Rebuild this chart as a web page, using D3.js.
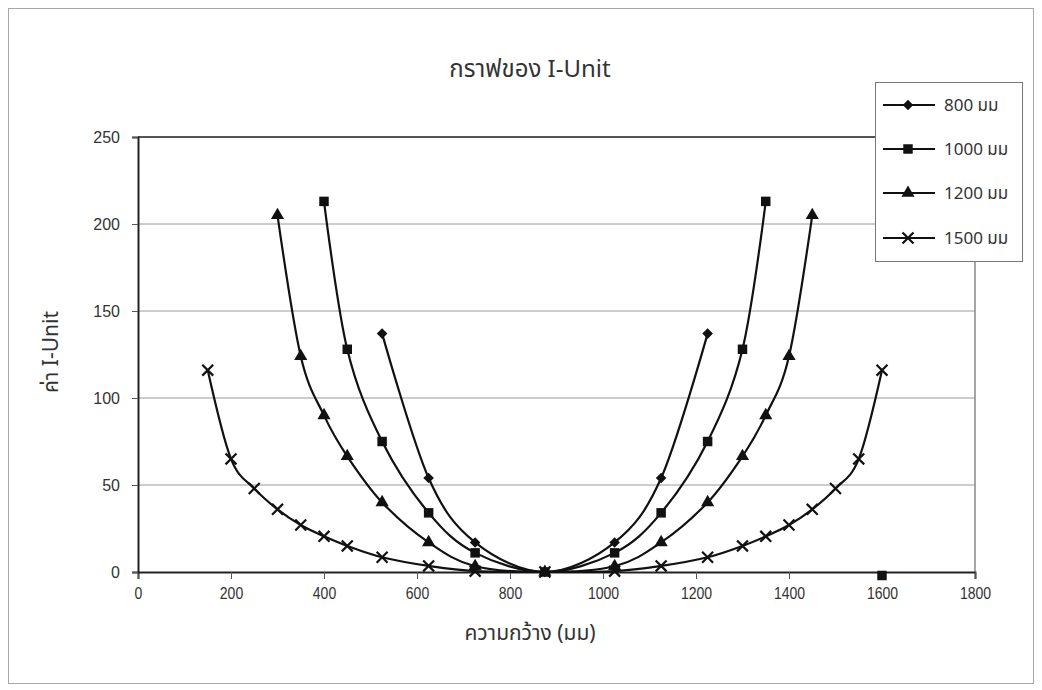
<!DOCTYPE html>
<html>
<head>
<meta charset="utf-8">
<script src="https://cdn.jsdelivr.net/npm/d3@7"></script>
<style>
  html, body { margin: 0; padding: 0; background: #fff; }
  svg { display: block; }
  .thai { font-family: "Noto Sans Thai", "Tahoma", "DejaVu Sans", sans-serif; }
  .num { font-family: "Liberation Sans", Arial, sans-serif; }
</style>
</head>
<body>
<svg id="chart" width="1042" height="690"></svg>
<script>
// Axis ticks
const xTicks = [0, 200, 400, 600, 800, 1000, 1200, 1400, 1600, 1800];
const yTicks = [0, 50, 100, 150, 200, 250];

// Series: width (มม) against I-Unit value
const seriesNames = ["800 มม", "1000 มม", "1200 มม", "1500 มม"];

const widths800 = [525, 625, 725, 875, 1025, 1125, 1225];
const iunit800  = [137, 54, 17, 0, 17, 54, 137];

const widths1000 = [400, 450, 525, 625, 725, 875, 1025, 1125, 1225, 1300, 1350];
const iunit1000  = [213, 128, 75, 34, 11, 0, 11, 34, 75, 128, 213];

const widths1200 = [300, 350, 400, 450, 525, 625, 725, 875, 1025, 1125, 1225, 1300, 1350, 1400, 1450];
const iunit1200  = [205, 124, 90, 66.5, 40, 17, 3.3, 0, 3.3, 17, 40, 66.5, 90, 124, 205];

const widths1500 = [150, 200, 250, 300, 350, 400, 450, 525, 625, 725, 875, 1025, 1125, 1225, 1300, 1350, 1400, 1450, 1500, 1550, 1600];
const iunit1500  = [116, 65, 48, 36, 27, 20.5, 15, 8.5, 3.5, 0.5, 0, 0.5, 3.5, 8.5, 15, 20.5, 27, 36, 48, 65, 116];

// A lone 1000 มม point plotted without a connecting line
const loneWidths1000 = [1600];
const loneIunit1000  = [-2];

const svg = d3.select("#chart");
const W = 1042, H = 690;

const x = d3.scaleLinear().domain([0, 1800]).range([138, 975]);
const y = d3.scaleLinear().domain([0, 250]).range([572, 137]);

// outer chart border
svg.append("rect")
  .attr("x", 8.5).attr("y", 8.5).attr("width", W - 17).attr("height", H - 15)
  .attr("fill", "#fff").attr("stroke", "#a8a8a8").attr("stroke-width", 1);

// horizontal gridlines
svg.append("g").selectAll("line")
  .data(yTicks.filter(d => d > 0 && d < 250))
  .join("line")
  .attr("x1", x(0)).attr("x2", x(1800))
  .attr("y1", d => y(d)).attr("y2", d => y(d))
  .attr("stroke", "#9a9a9a").attr("stroke-width", 1);

// plot frame: top and right
svg.append("line")
  .attr("x1", x(0)).attr("x2", x(1800)).attr("y1", y(250)).attr("y2", y(250))
  .attr("stroke", "#555").attr("stroke-width", 2);
svg.append("line")
  .attr("x1", x(1800)).attr("x2", x(1800)).attr("y1", y(250)).attr("y2", y(0))
  .attr("stroke", "#888").attr("stroke-width", 1.5);

// axes
const xAxis = d3.axisBottom(x).tickValues(xTicks).tickSize(7).tickPadding(8).tickFormat(d3.format("d"));
const yAxis = d3.axisLeft(y).tickValues(yTicks).tickSize(6).tickPadding(12).tickFormat(d3.format("d"));

const gx = svg.append("g").attr("transform", `translate(0,${y(0)})`).call(xAxis);
gx.select(".domain").attr("stroke", "#222").attr("stroke-width", 2);
gx.selectAll(".tick line").attr("stroke", "#555");
// narrow numerals on the width axis
gx.selectAll(".tick text")
  .attr("class", "num").attr("font-size", 17).attr("fill", "#333")
  .attr("textLength", d => String(d).length * 7.8)
  .attr("lengthAdjust", "spacingAndGlyphs");

const gy = svg.append("g").attr("transform", `translate(${x(0)},0)`).call(yAxis);
gy.select(".domain").attr("stroke", "#222").attr("stroke-width", 2);
gy.selectAll(".tick line").attr("stroke", "#555");
gy.selectAll(".tick text").attr("class", "num").attr("font-size", 16).attr("fill", "#333");

// titles
svg.append("text").attr("class", "thai")
  .attr("x", 530).attr("y", 77).attr("text-anchor", "middle")
  .attr("font-size", 24).attr("fill", "#333").text("กราฟของ I-Unit");

svg.append("text").attr("class", "thai")
  .attr("x", 530).attr("y", 640).attr("text-anchor", "middle")
  .attr("font-size", 21).attr("fill", "#333").text("ความกว้าง (มม)");

svg.append("text").attr("class", "thai")
  .attr("transform", "translate(58,352) rotate(-90)").attr("text-anchor", "middle")
  .attr("font-size", 21).attr("fill", "#333").text("ค่า I-Unit");

// marker shapes
const markerDefs = [
  { type: d3.symbolSquare, size: 56, rotate: 45, fill: "#111", stroke: "none" },   // diamond
  { type: d3.symbolSquare, size: 90, rotate: 0, fill: "#111", stroke: "none" },    // square
  { type: d3.symbolTriangle, size: 75, rotate: 0, fill: "#111", stroke: "none" },  // triangle
  { type: d3.symbolX, size: 80, rotate: 0, fill: "none", stroke: "#111" }          // cross
];

const seriesData = [
  d3.zip(widths800, iunit800),
  d3.zip(widths1000, iunit1000),
  d3.zip(widths1200, iunit1200),
  d3.zip(widths1500, iunit1500)
];

const line = d3.line()
  .x(d => x(d[0])).y(d => y(d[1]))
  .curve(d3.curveCardinal.tension(0));

function drawMarker(g, m, px, py) {
  g.append("path")
    .attr("d", d3.symbol().type(m.type).size(m.size)())
    .attr("transform", `translate(${px},${py}) rotate(${m.rotate})`)
    .attr("fill", m.fill)
    .attr("stroke", m.stroke)
    .attr("stroke-width", m.stroke === "none" ? 0 : 2.2);
}

const gSeries = svg.append("g");
seriesData.forEach(pts => {
  gSeries.append("path")
    .attr("d", line(pts))
    .attr("fill", "none").attr("stroke", "#111").attr("stroke-width", 2.2);
});
seriesData.forEach((pts, i) => {
  const g = gSeries.append("g");
  pts.forEach(p => drawMarker(g, markerDefs[i], x(p[0]), y(p[1])));
});
d3.zip(loneWidths1000, loneIunit1000).forEach(p => drawMarker(gSeries, markerDefs[1], x(p[0]), y(p[1])));

// legend
const lg = svg.append("g");
lg.append("rect")
  .attr("x", 875.5).attr("y", 82.5).attr("width", 147).attr("height", 179)
  .attr("fill", "#fff").attr("stroke", "#777").attr("stroke-width", 1);
const rowY = [105, 149, 193, 238];
seriesNames.forEach((name, i) => {
  lg.append("line")
    .attr("x1", 883).attr("x2", 935).attr("y1", rowY[i]).attr("y2", rowY[i])
    .attr("stroke", "#111").attr("stroke-width", 2.2);
  drawMarker(lg, markerDefs[i], 908, rowY[i]);
  lg.append("text").attr("class", "thai")
    .attr("x", 944).attr("y", rowY[i]).attr("dy", "0.35em")
    .attr("font-size", 17).attr("fill", "#333").text(name);
});
</script>
</body>
</html>
